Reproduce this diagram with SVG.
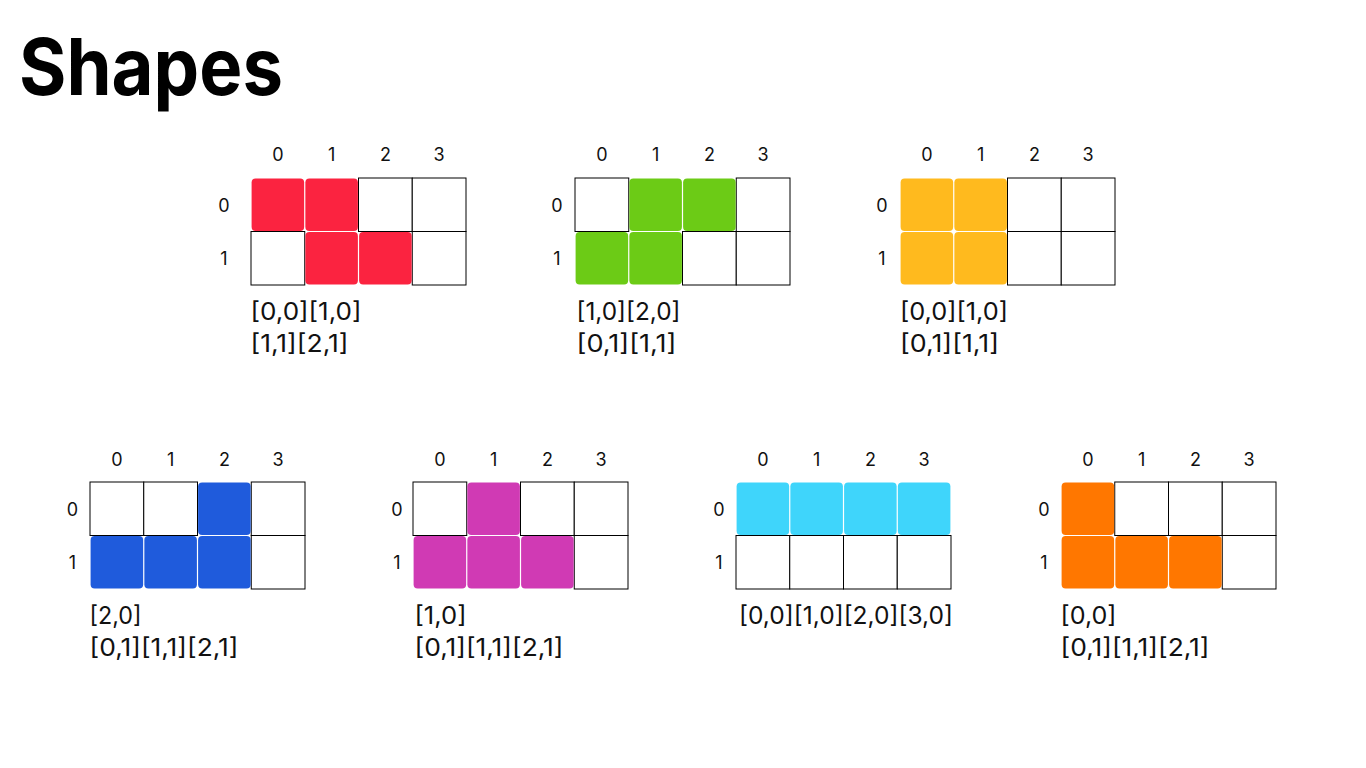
<svg xmlns="http://www.w3.org/2000/svg" width="1366" height="768" viewBox="0 0 1366 768">
<style>
.e{fill:#fff;stroke:#000;stroke-width:1}
.title{font-family:Inter,"Liberation Sans",sans-serif;font-weight:700;font-size:79px;fill:#000}
.lbl{font-family:Inter,"Noto Sans",sans-serif;font-size:18px;fill:#111;text-anchor:middle}
.co{font-family:Inter,"Noto Sans",sans-serif;font-size:24px;fill:#111}
.red{fill:#FB2340}.grn{fill:#6CCB16}.yel{fill:#FFBA1E}.blu{fill:#1F5BDC}.mag{fill:#D03AB4}.cya{fill:#3FD5FB}.org{fill:#FF7700}
</style>
<rect width="1366" height="768" fill="#fff"/>
<text class="title" x="19" y="95" textLength="264" lengthAdjust="spacingAndGlyphs">Shapes</text>

<g id="shape-red">
<text class="lbl" x="277.9" y="161">0</text><text class="lbl" x="331.6" y="161">1</text><text class="lbl" x="385.4" y="161">2</text><text class="lbl" x="439.1" y="161">3</text>
<text class="lbl" x="224" y="212">0</text><text class="lbl" x="224" y="265">1</text>
<rect class="e" x="358.5" y="178" width="53.75" height="53.5"/><rect class="e" x="412.25" y="178" width="53.75" height="53.5"/>
<rect class="e" x="251" y="231.5" width="53.75" height="53.5"/><rect class="e" x="412.25" y="231.5" width="53.75" height="53.5"/>
<rect class="red" rx="4" x="251.6" y="178.6" width="52.55" height="52.3"/><rect class="red" rx="4" x="305.35" y="178.6" width="52.55" height="52.3"/>
<rect class="red" rx="4" x="305.35" y="232.1" width="52.55" height="52.3"/><rect class="red" rx="4" x="359.1" y="232.1" width="52.55" height="52.3"/>
<text class="co" x="250.5" y="320" textLength="111" lengthAdjust="spacingAndGlyphs">[0,0][1,0]</text>
<text class="co" x="250.5" y="352" textLength="98" lengthAdjust="spacingAndGlyphs">[1,1][2,1]</text>
</g>

<g id="shape-green">
<text class="lbl" x="601.9" y="161">0</text><text class="lbl" x="655.6" y="161">1</text><text class="lbl" x="709.4" y="161">2</text><text class="lbl" x="763.1" y="161">3</text>
<text class="lbl" x="557" y="212">0</text><text class="lbl" x="557" y="265">1</text>
<rect class="e" x="575" y="178" width="53.75" height="53.5"/><rect class="e" x="736.25" y="178" width="53.75" height="53.5"/>
<rect class="e" x="682.5" y="231.5" width="53.75" height="53.5"/><rect class="e" x="736.25" y="231.5" width="53.75" height="53.5"/>
<rect class="grn" rx="4" x="629.35" y="178.6" width="52.55" height="52.3"/><rect class="grn" rx="4" x="683.1" y="178.6" width="52.55" height="52.3"/>
<rect class="grn" rx="4" x="575.6" y="232.1" width="52.55" height="52.3"/><rect class="grn" rx="4" x="629.35" y="232.1" width="52.55" height="52.3"/>
<text class="co" x="576.5" y="320" textLength="104" lengthAdjust="spacingAndGlyphs">[1,0][2,0]</text>
<text class="co" x="576.5" y="352" textLength="100" lengthAdjust="spacingAndGlyphs">[0,1][1,1]</text>
</g>

<g id="shape-yellow">
<text class="lbl" x="926.9" y="161">0</text><text class="lbl" x="980.6" y="161">1</text><text class="lbl" x="1034.4" y="161">2</text><text class="lbl" x="1088.1" y="161">3</text>
<text class="lbl" x="882" y="212">0</text><text class="lbl" x="882" y="265">1</text>
<rect class="e" x="1007.5" y="178" width="53.75" height="53.5"/><rect class="e" x="1061.25" y="178" width="53.75" height="53.5"/>
<rect class="e" x="1007.5" y="231.5" width="53.75" height="53.5"/><rect class="e" x="1061.25" y="231.5" width="53.75" height="53.5"/>
<rect class="yel" rx="4" x="900.6" y="178.6" width="52.55" height="52.3"/><rect class="yel" rx="4" x="954.35" y="178.6" width="52.55" height="52.3"/>
<rect class="yel" rx="4" x="900.6" y="232.1" width="52.55" height="52.3"/><rect class="yel" rx="4" x="954.35" y="232.1" width="52.55" height="52.3"/>
<text class="co" x="900" y="320" textLength="108" lengthAdjust="spacingAndGlyphs">[0,0][1,0]</text>
<text class="co" x="900" y="352" textLength="99" lengthAdjust="spacingAndGlyphs">[0,1][1,1]</text>
</g>

<g id="shape-blue">
<text class="lbl" x="116.9" y="466">0</text><text class="lbl" x="170.6" y="466">1</text><text class="lbl" x="224.4" y="466">2</text><text class="lbl" x="278.1" y="466">3</text>
<text class="lbl" x="72.5" y="516">0</text><text class="lbl" x="72.5" y="569">1</text>
<rect class="e" x="90" y="482" width="53.75" height="53.5"/><rect class="e" x="143.75" y="482" width="53.75" height="53.5"/><rect class="e" x="251.25" y="482" width="53.75" height="53.5"/>
<rect class="e" x="251.25" y="535.5" width="53.75" height="53.5"/>
<rect class="blu" rx="4" x="198.1" y="482.6" width="52.55" height="52.3"/>
<rect class="blu" rx="4" x="90.6" y="536.1" width="52.55" height="52.3"/><rect class="blu" rx="4" x="144.35" y="536.1" width="52.55" height="52.3"/><rect class="blu" rx="4" x="198.1" y="536.1" width="52.55" height="52.3"/>
<text class="co" x="89.5" y="624" textLength="52" lengthAdjust="spacingAndGlyphs">[2,0]</text>
<text class="co" x="89.5" y="656" textLength="149" lengthAdjust="spacingAndGlyphs">[0,1][1,1][2,1]</text>
</g>

<g id="shape-magenta">
<text class="lbl" x="439.9" y="466">0</text><text class="lbl" x="493.6" y="466">1</text><text class="lbl" x="547.4" y="466">2</text><text class="lbl" x="601.1" y="466">3</text>
<text class="lbl" x="397" y="516">0</text><text class="lbl" x="397" y="569">1</text>
<rect class="e" x="413" y="482" width="53.75" height="53.5"/><rect class="e" x="520.5" y="482" width="53.75" height="53.5"/><rect class="e" x="574.25" y="482" width="53.75" height="53.5"/>
<rect class="e" x="574.25" y="535.5" width="53.75" height="53.5"/>
<rect class="mag" rx="4" x="467.35" y="482.6" width="52.55" height="52.3"/>
<rect class="mag" rx="4" x="413.6" y="536.1" width="52.55" height="52.3"/><rect class="mag" rx="4" x="467.35" y="536.1" width="52.55" height="52.3"/><rect class="mag" rx="4" x="521.1" y="536.1" width="52.55" height="52.3"/>
<text class="co" x="414.5" y="624" textLength="52" lengthAdjust="spacingAndGlyphs">[1,0]</text>
<text class="co" x="414.5" y="656" textLength="149" lengthAdjust="spacingAndGlyphs">[0,1][1,1][2,1]</text>
</g>

<g id="shape-cyan">
<text class="lbl" x="762.9" y="466">0</text><text class="lbl" x="816.6" y="466">1</text><text class="lbl" x="870.4" y="466">2</text><text class="lbl" x="924.1" y="466">3</text>
<text class="lbl" x="719" y="516">0</text><text class="lbl" x="719" y="569">1</text>
<rect class="e" x="736" y="535.5" width="53.75" height="53.5"/><rect class="e" x="789.75" y="535.5" width="53.75" height="53.5"/><rect class="e" x="843.5" y="535.5" width="53.75" height="53.5"/><rect class="e" x="897.25" y="535.5" width="53.75" height="53.5"/>
<rect class="cya" rx="4" x="736.6" y="482.6" width="52.55" height="52.3"/><rect class="cya" rx="4" x="790.35" y="482.6" width="52.55" height="52.3"/><rect class="cya" rx="4" x="844.1" y="482.6" width="52.55" height="52.3"/><rect class="cya" rx="4" x="897.85" y="482.6" width="52.55" height="52.3"/>
<text class="co" x="739" y="624" textLength="214" lengthAdjust="spacingAndGlyphs">[0,0][1,0][2,0][3,0]</text>
</g>

<g id="shape-orange">
<text class="lbl" x="1087.9" y="466">0</text><text class="lbl" x="1141.6" y="466">1</text><text class="lbl" x="1195.4" y="466">2</text><text class="lbl" x="1249.1" y="466">3</text>
<text class="lbl" x="1044" y="516">0</text><text class="lbl" x="1044" y="569">1</text>
<rect class="e" x="1114.75" y="482" width="53.75" height="53.5"/><rect class="e" x="1168.5" y="482" width="53.75" height="53.5"/><rect class="e" x="1222.25" y="482" width="53.75" height="53.5"/>
<rect class="e" x="1222.25" y="535.5" width="53.75" height="53.5"/>
<rect class="org" rx="4" x="1061.6" y="482.6" width="52.55" height="52.3"/>
<rect class="org" rx="4" x="1061.6" y="536.1" width="52.55" height="52.3"/><rect class="org" rx="4" x="1115.35" y="536.1" width="52.55" height="52.3"/><rect class="org" rx="4" x="1169.1" y="536.1" width="52.55" height="52.3"/>
<text class="co" x="1060.5" y="624" textLength="56" lengthAdjust="spacingAndGlyphs">[0,0]</text>
<text class="co" x="1060.5" y="656" textLength="149" lengthAdjust="spacingAndGlyphs">[0,1][1,1][2,1]</text>
</g>
</svg>
